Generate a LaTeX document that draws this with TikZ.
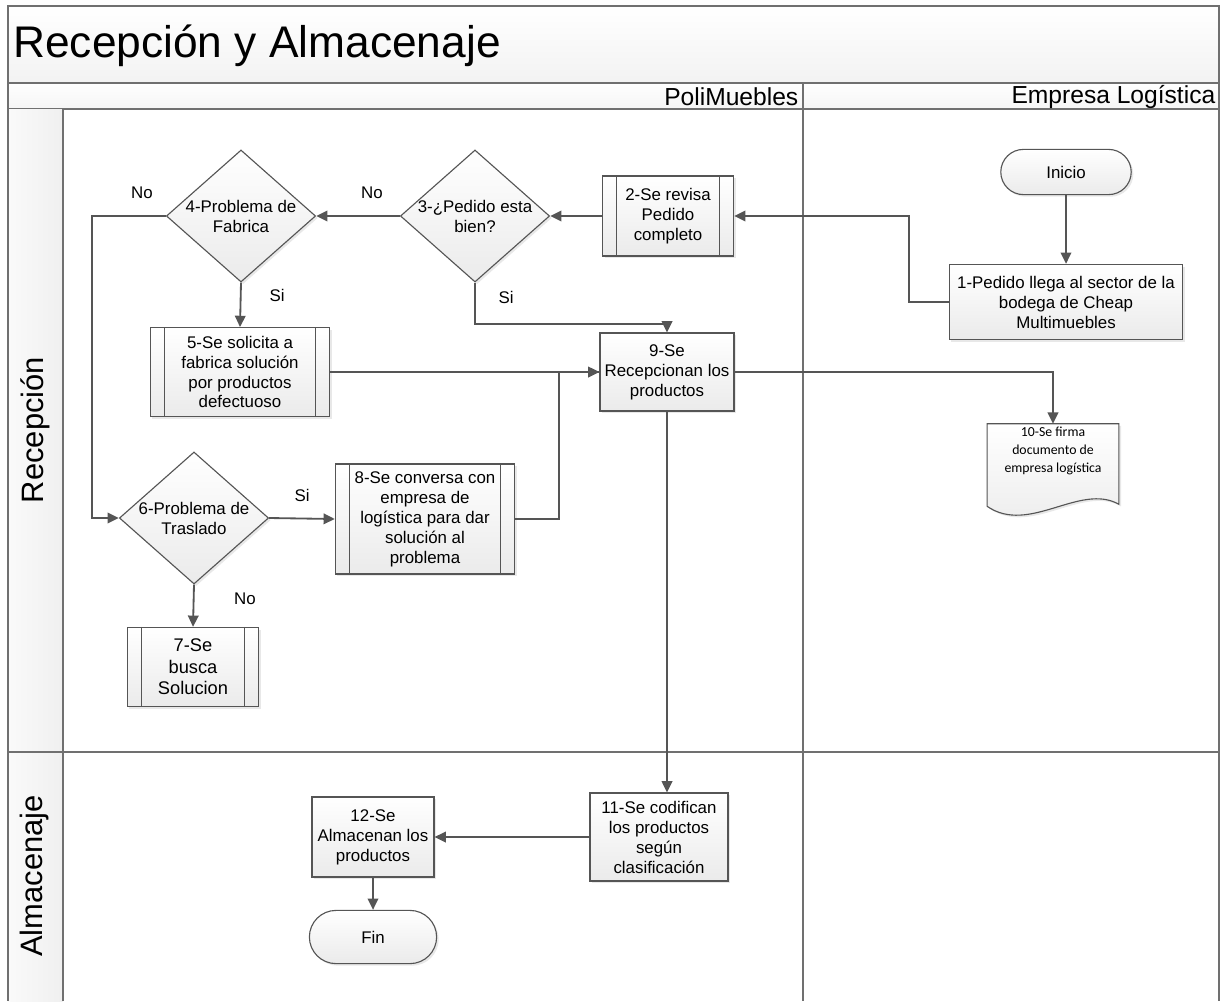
\documentclass[tikz,border=0pt]{standalone}
\usepackage{fontspec}
\setmainfont{Liberation Sans}
\newfontfamily\docfont{Carlito}
\usepackage{tikz}
\usetikzlibrary{positioning,calc,arrows.meta,shapes.geometric,shapes.misc,shadows}

\definecolor{linegray}{RGB}{85,85,85}
\definecolor{framegray}{RGB}{112,112,112}

\begin{document}
\begin{tikzpicture}[
    x=0.025cm, y=-0.025cm,
    font=\fontsize{12}{14.2}\selectfont,
    >={Triangle[length=8pt,width=7.5pt]},
    flow/.style={->, draw=linegray, line width=1.3pt},
    flowplain/.style={-, draw=linegray, line width=1.3pt},
    lane/.style={draw=framegray, line width=1.1pt},
    procbox/.style={draw=linegray, line width=0.8pt, rectangle, top color=white, bottom color=gray!16, align=center, inner sep=1pt,
        drop shadow={opacity=0.18, shadow xshift=1.5pt, shadow yshift=-1.5pt}},
    terminal/.style={procbox, rounded rectangle},
    decision/.style={procbox, diamond, inner sep=0pt, minimum width=3.73cm, minimum height=3.3cm},
    dectext/.style={align=center, font=\fontsize{12}{14.2}\selectfont},
    lbl/.style={font=\fontsize{12}{14}\selectfont}
]
\useasboundingbox (0,0) rectangle (1220,1001);

% 标题与泳道
\draw[lane, top color=white, bottom color=gray!10] (8,6) rectangle (1219,83);
\draw[lane, top color=white, bottom color=gray!8] (8,83) rectangle (1219,109);
\fill[left color=gray!4, right color=gray!12] (8,109) rectangle (63,1001);
\draw[lane] (8,6) -- (8,1001);
\draw[lane] (1219,6) -- (1219,1001);
\draw[lane] (63,109) -- (63,1001);
\draw[lane] (803,83) -- (803,1001);
\draw[lane] (8,752) -- (1219,752);

\node[anchor=west, inner sep=0pt, font=\fontsize{31.5}{36}\selectfont] (titulo) at (13,46) {Recepción y Almacenaje};
\node[anchor=east, inner sep=1pt, font=\fontsize{17.5}{21}\selectfont] (poli) at (800,97) {PoliMuebles};
\node[anchor=east, inner sep=1pt, font=\fontsize{17.5}{21}\selectfont] (empresa) at (1217,97) {Empresa Logística};
\node[rotate=90, font=\fontsize{22}{26}\selectfont] (lanerecep) at (35,430) {Recepción};
\node[rotate=90, font=\fontsize{22}{26}\selectfont] (lanealma) at (35,876) {Almacenaje};

% Empresa Logística
\node[terminal, minimum width=3.33cm, minimum height=1.13cm] (inicio) at (1066,172) {Inicio};
\node[procbox, minimum width=5.83cm, minimum height=1.88cm] (pedido) at (1066,302) {1-Pedido llega al sector de la\\bodega de Cheap\\Multimuebles};
\node[minimum width=3.28cm, minimum height=1.25cm] (firma) at (1053,449) {};
\draw[procbox] (firma.north west) -- (firma.north east) -- ($(firma.south east)+(0,30)$)
    .. controls ($(firma.south east)+(-39,8)$) and ($(firma.south west)+(42,61)$) .. ($(firma.south west)+(0,32)$) -- cycle;
\node[align=center, font=\docfont\fontsize{9.8}{12.6}\selectfont] (firmatexto) at ($(firma)+(0,2)$) {10-Se firma\\documento de\\empresa logística};

% PoliMuebles - recepción
\node[procbox, minimum width=3.28cm, minimum height=2.0cm] (revisa) at (668,216) {2-Se revisa\\Pedido\\completo};
\node[decision, label={[dectext]center:{3-¿Pedido esta\\bien?}}] (pedidobien) at (475,216) {};
\node[decision, label={[dectext]center:{4-Problema de\\Fabrica}}] (fabrica) at (241,216) {};
\node[procbox, minimum width=4.48cm, minimum height=2.22cm] (solicita) at (240,372) {5-Se solicita a\\fabrica solución\\por productos\\defectuoso};
\node[decision, label={[dectext]center:{6-Problema de\\Traslado}}] (traslado) at (194,518) {};
\node[procbox, minimum width=3.28cm, minimum height=1.98cm, font=\fontsize{13}{15.2}\selectfont] (busca) at (193,667) {7-Se\\busca\\Solucion};
\node[procbox, minimum width=4.48cm, minimum height=2.75cm] (conversa) at (425,519) {8-Se conversa con\\empresa de\\logística para dar\\solución al\\problema};
\node[procbox, minimum width=3.35cm, minimum height=1.95cm] (recepcion) at (667,372) {9-Se\\Recepcionan los\\productos};

% PoliMuebles - almacenaje
\node[procbox, minimum width=3.45cm, minimum height=2.2cm] (codifica) at (659,837) {11-Se codifican\\los productos\\según\\clasificación};
\node[procbox, minimum width=3.05cm, minimum height=2.0cm] (almacena) at (373,837) {12-Se\\Almacenan los\\productos};
\node[terminal, minimum width=3.25cm, minimum height=1.33cm] (fin) at (373,937) {Fin};

% 子流程框的竖线
\foreach \n in {revisa,solicita,busca,conversa} {
    \draw[draw=linegray, line width=0.8pt] ([xshift=0.37cm]\n.north west) -- ([xshift=0.37cm]\n.south west);
    \draw[draw=linegray, line width=0.8pt] ([xshift=-0.37cm]\n.north east) -- ([xshift=-0.37cm]\n.south east);
}

% 连线
\draw[flow] (inicio.south) -- (pedido.north);
\draw[flow] (pedido.west) -- ++(-40,0) |- (revisa.east);
\draw[flow] (revisa.west) -- (pedidobien.east);
\draw[flow] (pedidobien.west) -- (fabrica.east);
\draw[flow] (pedidobien.south) -- ++(0,41) -| (recepcion.north);
\draw[flow] (fabrica.south) -- (solicita.north);
\draw[flow] (fabrica.west) -- ++(-74,0) |- (traslado.west);
\draw[flow] (solicita.east) -- (recepcion.west);
\draw[flowplain] (conversa.east) -- ++(44,0) |- (recepcion.west);
\draw[flow] (traslado.east) -- (conversa.west);
\draw[flow] (traslado.south) -- (busca.north);
\draw[flow] (recepcion.east) -| (firma.north);
\draw[flow] (recepcion.south) -- (recepcion.south |- codifica.north);
\draw[flow] (codifica.west) -- (almacena.east);
\draw[flow] (almacena.south) -- (fin.north);

% Si / No
\node[lbl] (no3) at (372,193) {No};
\node[lbl] (no4) at (142,193) {No};
\node[lbl] (si4) at (277,295) {Si};
\node[lbl] (si3) at (506,297) {Si};
\node[lbl] (si6) at (302,495) {Si};
\node[lbl] (no6) at (245,599) {No};

\end{tikzpicture}
\end{document}
